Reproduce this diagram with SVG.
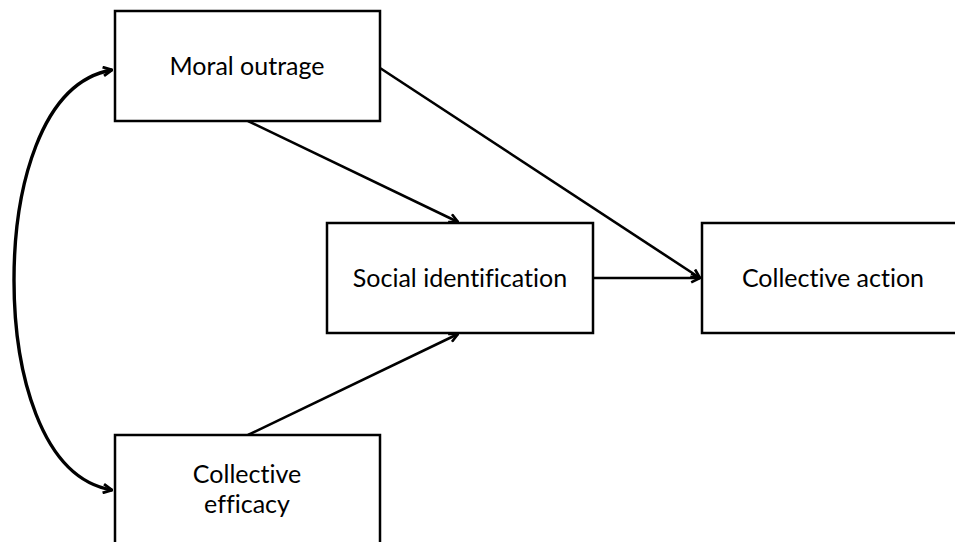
<svg xmlns="http://www.w3.org/2000/svg" width="955" height="542" viewBox="0 0 955 542">
<style>
.box{fill:#fff;stroke:#000;stroke-width:2.5}
.lbl{font-family:Lato,"Liberation Sans",sans-serif;font-size:25px;fill:#000;text-anchor:middle;font-variant-ligatures:none}
.ln{fill:none;stroke:#000;stroke-width:2.6;marker-end:url(#ah)}
.cv{fill:none;stroke:#000;stroke-width:3.4;marker-start:url(#ahs);marker-end:url(#ah2)}
</style>
<defs>
<marker id="ah" viewBox="0 0 10 10" refX="9" refY="5" markerWidth="11" markerHeight="11" markerUnits="userSpaceOnUse" orient="auto">
<path d="M1,1 L9,5 L1,9" fill="none" stroke="#000" stroke-width="2.4"/>
</marker>
<marker id="ah2" viewBox="0 0 10 10" refX="9" refY="5" markerWidth="11" markerHeight="11" markerUnits="userSpaceOnUse" orient="auto">
<path d="M1,1 L9,5 L1,9" fill="none" stroke="#000" stroke-width="2.6"/>
</marker>
<marker id="ahs" viewBox="0 0 10 10" refX="9" refY="5" markerWidth="11" markerHeight="11" markerUnits="userSpaceOnUse" orient="auto-start-reverse">
<path d="M1,1 L9,5 L1,9" fill="none" stroke="#000" stroke-width="2.6"/>
</marker>
</defs>
<g id="connectors">
<path class="ln" d="M248,121 L458,222"/>
<path class="ln" d="M248,435 L458,334"/>
<path class="ln" d="M380,68 L700,278"/>
<path class="ln" d="M593,278 L700,278"/>
<path class="cv" d="M112,70 C40,82 14,190 14,280 C14,370 40,478 112,490"/>
</g>
<g id="moral-outrage">
<rect class="box" x="115" y="11" width="265" height="110"/>
<text class="lbl" x="247" y="75">Moral outrage</text>
</g>
<g id="social-identification">
<rect class="box" x="327" y="223" width="266" height="110"/>
<text class="lbl" x="460" y="287">Social identification</text>
</g>
<g id="collective-action">
<rect class="box" x="702" y="223" width="262" height="110"/>
<text class="lbl" x="833" y="287">Collective action</text>
</g>
<g id="collective-efficacy">
<rect class="box" x="115" y="435" width="265" height="120"/>
<text class="lbl" x="247" y="483">Collective</text>
<text class="lbl" x="247" y="513">efficacy</text>
</g>
</svg>
